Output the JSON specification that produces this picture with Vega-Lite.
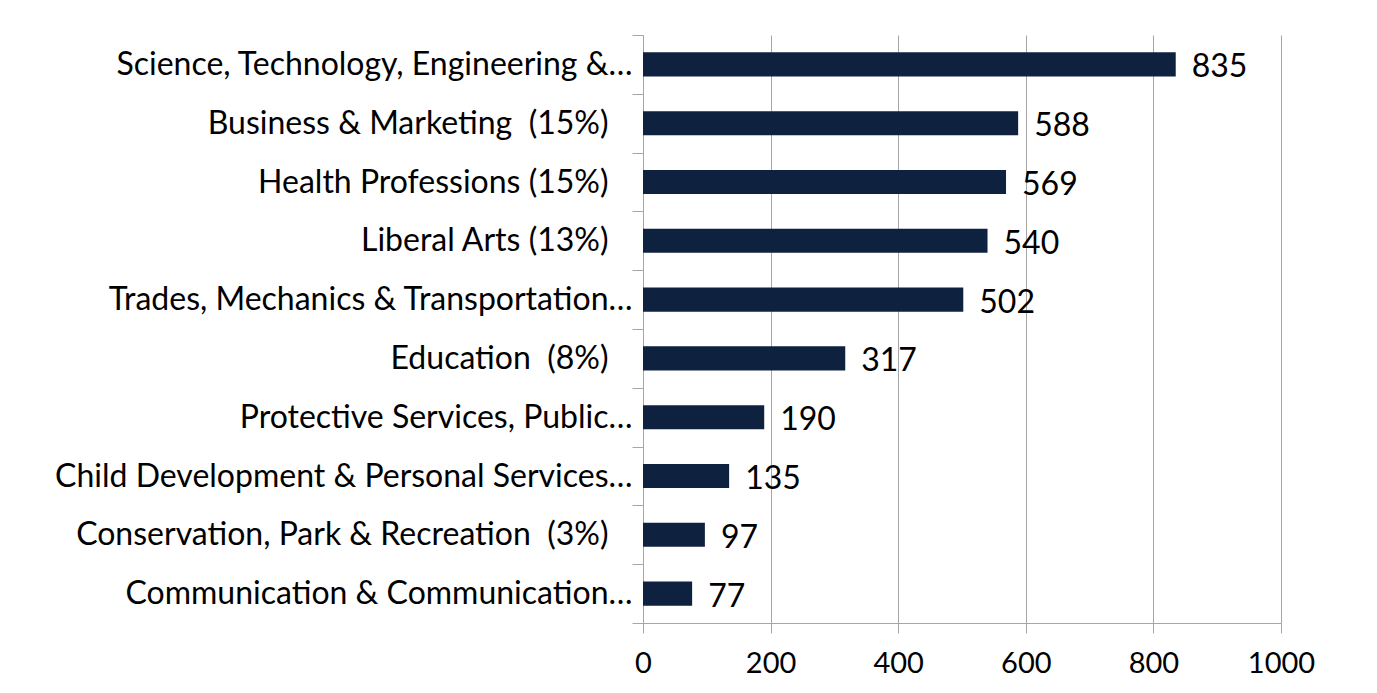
{
  "$schema": "https://vega.github.io/schema/vega-lite/v6.json",
  "width": 638,
  "height": 588,
  "autosize": {"type": "none"},
  "padding": {"left": 643, "top": 35, "right": 96, "bottom": 70},
  "background": "white",
  "config": {
    "view": {"stroke": null},
    "font": "Lato"
  },
  "data": {
    "values": [
      {"field": "Science, Technology, Engineering &…", "count": 835},
      {"field": "Business & Marketing \u00a0(15%)", "count": 588},
      {"field": "Health Professions (15%)", "count": 569},
      {"field": "Liberal Arts (13%)", "count": 540},
      {"field": "Trades, Mechanics & Transportation…", "count": 502},
      {"field": "Education \u00a0(8%)", "count": 317},
      {"field": "Protective Services, Public…", "count": 190},
      {"field": "Child Development & Personal Services…", "count": 135},
      {"field": "Conservation, Park & Recreation \u00a0(3%)", "count": 97},
      {"field": "Communication & Communication…", "count": 77}
    ]
  },
  "encoding": {
    "y": {
      "field": "field",
      "type": "nominal",
      "sort": null,
      "scale": {"paddingInner": 0, "paddingOuter": 0},
      "axis": {
        "title": null,
        "domainColor": "#a6a6a6",
        "tickColor": "#a6a6a6",
        "tickSize": 11,
        "tickBand": "extent",
        "labelPadding": {"condition": {"test": "indexof(datum.label, '…') < 0", "value": 24}, "value": 0},
        "labelFontSize": 32,
        "labelColor": "black",
        "labelLimit": 700,
        "grid": false
      }
    },
    "x": {
      "field": "count",
      "type": "quantitative",
      "scale": {"domain": [0, 1000], "nice": false},
      "axis": {
        "title": null,
        "values": [0, 200, 400, 600, 800, 1000],
        "format": "d",
        "grid": true,
        "gridColor": "#a6a6a6",
        "domainColor": "#a6a6a6",
        "tickColor": "#a6a6a6",
        "tickSize": 10,
        "labelPadding": 16,
        "labelFontSize": 29,
        "labelColor": "black",
        "labelFlush": false
      }
    }
  },
  "layer": [
    {
      "mark": {"type": "bar", "color": "#0e2240", "height": {"band": 0.41}}
    },
    {
      "mark": {"type": "text", "align": "left", "baseline": "middle", "dx": 16, "dy": 3, "fontSize": 32, "color": "black"},
      "encoding": {"text": {"field": "count", "type": "quantitative"}}
    }
  ]
}
